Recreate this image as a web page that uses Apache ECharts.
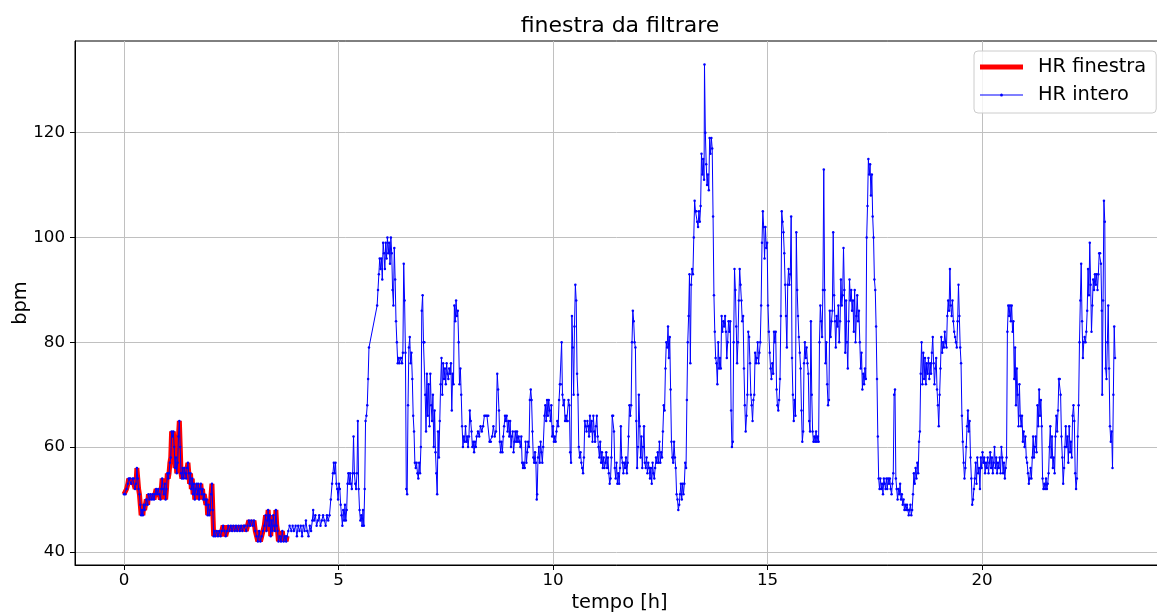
<!DOCTYPE html>
<html>
<head>
<meta charset="utf-8">
<script src="https://cdn.jsdelivr.net/npm/echarts@6/dist/echarts.min.js"></script>
<style>
  html, body { margin: 0; padding: 0; background: #fff; }
  #grafico { width: 1157px; height: 612px; }
</style>
</head>
<body>
<div id="grafico"></div>
<script>
// Frequenza cardiaca [bpm] in funzione del tempo [h], coppie [ore, bpm]
const hr_0_2 = [[0,51],[0.03,51],[0.06,52],[0.09,53],[0.11,54],[0.14,54],[0.17,53],[0.2,54],[0.23,54],[0.26,52],[0.28,53],[0.3,56],[0.32,54],[0.34,52],[0.36,51],[0.38,49],[0.4,47],[0.42,48],[0.44,47],[0.46,49],[0.48,48],[0.5,49],[0.52,50],[0.55,49],[0.57,51],[0.6,50],[0.62,51],[0.65,50],[0.67,51],[0.7,50],[0.72,51],[0.75,52],[0.77,51],[0.8,52],[0.82,51],[0.85,50],[0.87,52],[0.89,54],[0.91,52],[0.93,51],[0.95,53],[0.97,50],[0.99,52],[1.01,55],[1.03,54],[1.05,55],[1.07,57],[1.09,58],[1.11,63],[1.13,62],[1.15,63],[1.17,60],[1.19,56],[1.21,58],[1.23,55],[1.25,57],[1.27,62],[1.29,65],[1.31,60],[1.33,55],[1.35,54],[1.37,56],[1.39,54],[1.41,56],[1.43,55],[1.45,54],[1.47,56],[1.49,57],[1.51,55],[1.53,53],[1.55,55],[1.57,52],[1.59,54],[1.61,51],[1.63,53],[1.65,50],[1.67,52],[1.69,53],[1.71,51],[1.73,53],[1.75,50],[1.77,52],[1.79,53],[1.81,51],[1.83,52],[1.85,50],[1.87,51],[1.89,50],[1.91,49],[1.93,50],[1.95,47],[1.97,49],[1.99,47],[2.01,48],[2.03,51],[2.05,53],[2.07,48],[2.09,43]];
const hr_2_4 = [[2.11,44],[2.13,43],[2.16,44],[2.19,43],[2.22,44],[2.25,43],[2.28,44],[2.31,45],[2.34,44],[2.37,43],[2.4,44],[2.43,45],[2.46,44],[2.49,45],[2.52,44],[2.55,45],[2.58,44],[2.61,45],[2.64,44],[2.67,45],[2.7,44],[2.73,45],[2.76,44],[2.79,45],[2.82,45],[2.85,44],[2.88,45],[2.91,46],[2.94,45],[2.97,46],[3.0,45],[3.03,46],[3.06,44],[3.09,43],[3.12,42],[3.15,44],[3.18,42],[3.21,43],[3.24,44],[3.27,45],[3.3,47],[3.32,44],[3.34,46],[3.36,48],[3.38,45],[3.4,47],[3.42,43],[3.44,46],[3.46,44],[3.48,47],[3.5,45],[3.52,44],[3.54,48],[3.56,45],[3.58,44],[3.6,42],[3.63,43],[3.66,42],[3.69,44],[3.72,42],[3.75,43],[3.78,42],[3.8,43],[3.83,44],[3.86,45],[3.9,44],[3.93,45],[3.96,44]];
const hr_4_6 = [[4.0,45],[4.03,43],[4.06,45],[4.09,44],[4.12,45],[4.15,43],[4.18,45],[4.21,44],[4.24,46],[4.27,44],[4.3,43],[4.33,45],[4.36,44],[4.39,46],[4.41,48],[4.43,46],[4.46,47],[4.49,45],[4.52,46],[4.55,47],[4.58,45],[4.61,46],[4.64,47],[4.67,46],[4.7,45],[4.73,47],[4.76,46],[4.79,47],[4.82,50],[4.85,53],[4.87,55],[4.89,57],[4.91,55],[4.93,57],[4.95,53],[4.97,52],[4.99,50],[5.01,53],[5.03,52],[5.05,49],[5.07,47],[5.09,45],[5.11,48],[5.13,46],[5.15,49],[5.17,46],[5.19,48],[5.21,53],[5.23,55],[5.25,53],[5.27,55],[5.29,53],[5.31,52],[5.33,55],[5.35,62],[5.37,55],[5.39,53],[5.41,52],[5.43,55],[5.45,65],[5.47,52],[5.49,48],[5.51,46],[5.53,47],[5.55,45],[5.57,48],[5.59,45],[5.61,52],[5.63,65],[5.65,66],[5.67,68],[5.69,73],[5.71,79],[5.9,87],[5.92,90],[5.94,93],[5.96,96],[5.98,94]];
const hr_6_8 = [[6.0,96],[6.02,92],[6.04,99],[6.06,97],[6.08,94],[6.1,99],[6.12,96],[6.14,100],[6.16,97],[6.18,99],[6.2,95],[6.22,100],[6.24,97],[6.26,90],[6.28,87],[6.3,98],[6.32,92],[6.34,84],[6.36,80],[6.38,76],[6.4,77],[6.42,76],[6.44,77],[6.46,77],[6.48,76],[6.5,78],[6.52,95],[6.54,88],[6.56,78],[6.58,52],[6.6,51],[6.62,68],[6.64,79],[6.66,81],[6.68,76],[6.7,78],[6.72,73],[6.74,66],[6.76,63],[6.78,57],[6.8,56],[6.82,57],[6.84,55],[6.86,54],[6.88,57],[6.9,55],[6.92,60],[6.94,86],[6.96,89],[6.98,80],[7.0,80],[7.02,70],[7.04,63],[7.06,74],[7.08,66],[7.1,72],[7.12,64],[7.14,74],[7.16,68],[7.18,65],[7.2,70],[7.22,60],[7.24,67],[7.26,59],[7.28,55],[7.3,51],[7.32,63],[7.34,58],[7.36,65],[7.38,72],[7.4,77],[7.42,70],[7.44,76],[7.46,73],[7.48,75],[7.5,72],[7.52,76],[7.54,74],[7.56,73],[7.58,75],[7.6,74],[7.62,76],[7.64,67],[7.66,74],[7.68,72],[7.7,87],[7.72,84],[7.74,88],[7.76,85],[7.78,86],[7.8,80],[7.82,72],[7.84,75],[7.86,70],[7.88,64],[7.9,60],[7.92,62],[7.94,61],[7.96,64],[7.98,61]];
const hr_8_10 = [[8.0,62],[8.02,60],[8.04,62],[8.06,67],[8.08,65],[8.1,63],[8.12,60],[8.14,61],[8.16,59],[8.18,61],[8.2,60],[8.22,62],[8.25,63],[8.28,62],[8.31,64],[8.34,63],[8.37,64],[8.4,66],[8.43,66],[8.46,66],[8.49,66],[8.52,61],[8.55,61],[8.58,62],[8.61,64],[8.64,62],[8.67,63],[8.7,74],[8.72,71],[8.74,67],[8.76,61],[8.78,59],[8.8,61],[8.82,59],[8.84,62],[8.86,64],[8.88,66],[8.9,65],[8.92,66],[8.94,63],[8.96,65],[8.98,62],[9.0,65],[9.02,60],[9.04,62],[9.06,63],[9.08,59],[9.1,61],[9.12,63],[9.14,61],[9.16,63],[9.18,61],[9.2,62],[9.22,61],[9.24,60],[9.26,62],[9.28,57],[9.3,56],[9.32,57],[9.34,56],[9.36,61],[9.38,57],[9.4,59],[9.42,61],[9.44,60],[9.46,69],[9.48,71],[9.5,69],[9.52,63],[9.54,58],[9.56,57],[9.58,59],[9.6,57],[9.62,50],[9.63,51],[9.65,58],[9.67,60],[9.69,57],[9.71,61],[9.73,59],[9.75,57],[9.77,60],[9.8,66],[9.82,68],[9.84,65],[9.86,69],[9.88,66],[9.9,69],[9.92,67],[9.94,65],[9.96,68],[9.98,62]];
const hr_10_12 = [[10.0,64],[10.02,61],[10.04,62],[10.06,61],[10.08,63],[10.1,65],[10.12,64],[10.14,69],[10.16,72],[10.18,72],[10.2,80],[10.22,70],[10.24,68],[10.26,69],[10.28,65],[10.3,66],[10.32,65],[10.34,65],[10.36,69],[10.38,68],[10.4,59],[10.42,57],[10.44,85],[10.46,79],[10.48,70],[10.5,83],[10.52,91],[10.54,88],[10.56,74],[10.58,70],[10.6,60],[10.62,58],[10.64,59],[10.66,57],[10.68,56],[10.7,55],[10.72,58],[10.74,65],[10.76,64],[10.78,63],[10.8,65],[10.82,64],[10.84,62],[10.86,66],[10.88,63],[10.9,65],[10.92,61],[10.94,66],[10.96,63],[10.98,61],[11.0,64],[11.02,66],[11.04,62],[11.06,60],[11.08,58],[11.1,61],[11.12,57],[11.14,59],[11.16,56],[11.18,58],[11.2,56],[11.22,57],[11.24,59],[11.26,56],[11.28,58],[11.3,55],[11.32,53],[11.34,54],[11.36,58],[11.38,66],[11.4,66],[11.42,63],[11.44,56],[11.46,54],[11.48,57],[11.5,53],[11.52,55],[11.54,53],[11.56,56],[11.58,64],[11.6,58],[11.62,57],[11.64,55],[11.66,57],[11.68,56],[11.7,58],[11.72,55],[11.74,57],[11.76,62],[11.78,68],[11.8,66],[11.82,68],[11.84,80],[11.86,86],[11.88,84],[11.9,80],[11.92,79],[11.94,65],[11.96,56],[11.98,60]];
const hr_12_14 = [[12.0,70],[12.02,64],[12.04,58],[12.06,62],[12.08,56],[12.1,60],[12.12,64],[12.14,57],[12.16,56],[12.18,58],[12.2,55],[12.22,57],[12.24,56],[12.26,54],[12.28,56],[12.3,53],[12.32,57],[12.34,55],[12.36,54],[12.38,56],[12.4,58],[12.42,57],[12.44,59],[12.46,57],[12.48,61],[12.5,57],[12.52,59],[12.54,58],[12.56,63],[12.58,68],[12.6,67],[12.62,75],[12.64,80],[12.66,79],[12.68,83],[12.7,77],[12.72,81],[12.74,71],[12.76,61],[12.78,58],[12.8,57],[12.82,61],[12.84,58],[12.86,56],[12.88,51],[12.9,50],[12.92,48],[12.94,49],[12.96,51],[12.98,53],[13.0,50],[13.02,53],[13.04,51],[13.06,53],[13.08,57],[13.1,56],[13.12,69],[13.14,80],[13.16,85],[13.18,93],[13.2,76],[13.22,91],[13.24,94],[13.26,93],[13.28,100],[13.3,107],[13.32,105],[13.34,105],[13.36,103],[13.38,102],[13.4,105],[13.42,103],[13.44,106],[13.46,116],[13.48,112],[13.5,115],[13.52,111],[13.53,133],[13.55,120],[13.57,114],[13.59,110],[13.61,112],[13.63,109],[13.65,119],[13.67,116],[13.69,119],[13.71,117],[13.73,104],[13.75,89],[13.77,82],[13.79,77],[13.81,76],[13.83,72],[13.85,80],[13.87,75],[13.89,77],[13.91,75],[13.93,85],[13.95,82],[13.97,84],[13.99,83]];
const hr_14_16 = [[14.01,85],[14.03,82],[14.05,77],[14.07,80],[14.09,84],[14.11,82],[14.13,84],[14.15,67],[14.17,60],[14.19,61],[14.21,80],[14.23,94],[14.25,90],[14.27,83],[14.29,76],[14.31,80],[14.33,88],[14.35,94],[14.37,91],[14.39,88],[14.41,84],[14.43,85],[14.45,75],[14.47,68],[14.49,63],[14.51,66],[14.53,70],[14.55,82],[14.57,81],[14.59,76],[14.61,70],[14.63,68],[14.65,65],[14.67,69],[14.69,70],[14.71,78],[14.73,76],[14.75,77],[14.77,80],[14.79,76],[14.81,78],[14.83,80],[14.85,87],[14.87,99],[14.89,105],[14.91,102],[14.93,96],[14.95,102],[14.97,98],[14.99,99],[15.01,87],[15.03,82],[15.05,78],[15.07,75],[15.09,73],[15.11,76],[15.13,74],[15.15,82],[15.17,80],[15.19,82],[15.21,71],[15.23,68],[15.25,67],[15.27,69],[15.29,73],[15.31,85],[15.33,105],[15.35,103],[15.37,101],[15.39,97],[15.41,91],[15.43,85],[15.45,79],[15.47,91],[15.49,94],[15.51,91],[15.53,93],[15.55,104],[15.57,77],[15.59,70],[15.61,65],[15.63,69],[15.65,66],[15.67,101],[15.69,90],[15.71,85],[15.73,81],[15.75,78],[15.77,75],[15.79,67],[15.81,61],[15.83,63],[15.85,76],[15.87,80],[15.89,77],[15.91,79],[15.93,76],[15.95,74],[15.97,65],[15.99,63]];
const hr_16_18 = [[16.01,84],[16.03,70],[16.05,63],[16.07,61],[16.09,62],[16.11,61],[16.13,63],[16.15,61],[16.17,62],[16.19,61],[16.21,80],[16.23,87],[16.25,84],[16.27,81],[16.29,90],[16.31,113],[16.33,90],[16.35,76],[16.37,80],[16.39,72],[16.41,68],[16.43,69],[16.45,86],[16.47,81],[16.49,84],[16.51,86],[16.53,101],[16.55,89],[16.57,84],[16.59,79],[16.61,85],[16.63,83],[16.65,87],[16.67,80],[16.69,84],[16.71,92],[16.73,87],[16.75,89],[16.77,98],[16.79,90],[16.81,78],[16.83,88],[16.85,80],[16.87,75],[16.89,84],[16.91,92],[16.93,88],[16.95,90],[16.97,86],[16.99,88],[17.01,82],[17.03,90],[17.05,80],[17.07,85],[17.09,89],[17.11,84],[17.13,86],[17.15,80],[17.17,75],[17.19,78],[17.21,71],[17.23,74],[17.25,72],[17.27,75],[17.29,73],[17.31,100],[17.33,106],[17.35,115],[17.37,112],[17.39,114],[17.41,108],[17.43,112],[17.45,104],[17.47,100],[17.49,92],[17.51,90],[17.53,83],[17.55,73],[17.57,62],[17.59,54],[17.61,52],[17.63,54],[17.65,52],[17.67,53],[17.69,51],[17.71,54],[17.73,53],[17.75,52],[17.77,54],[17.79,52],[17.81,54],[17.83,53],[17.85,54],[17.87,52],[17.89,51],[17.91,53],[17.93,55],[17.95,70],[17.97,71],[17.99,54]];
const hr_18_20 = [[18.01,52],[18.03,50],[18.05,52],[18.07,51],[18.09,53],[18.11,50],[18.13,51],[18.15,49],[18.17,50],[18.19,48],[18.21,49],[18.23,48],[18.25,49],[18.27,48],[18.29,47],[18.31,48],[18.33,49],[18.35,47],[18.37,48],[18.39,51],[18.41,55],[18.43,53],[18.45,56],[18.47,54],[18.49,57],[18.51,55],[18.53,61],[18.55,63],[18.57,74],[18.59,80],[18.61,72],[18.63,78],[18.65,73],[18.67,77],[18.69,72],[18.71,76],[18.73,74],[18.75,77],[18.77,73],[18.79,76],[18.81,74],[18.83,78],[18.85,81],[18.87,76],[18.89,72],[18.91,75],[18.93,77],[18.95,71],[18.97,68],[18.99,64],[19.01,70],[19.03,75],[19.05,81],[19.07,78],[19.09,80],[19.11,79],[19.13,82],[19.15,80],[19.17,79],[19.19,85],[19.21,88],[19.23,86],[19.25,94],[19.27,87],[19.29,85],[19.31,88],[19.33,84],[19.35,82],[19.37,81],[19.39,80],[19.41,79],[19.43,84],[19.45,91],[19.47,85],[19.49,79],[19.51,76],[19.53,66],[19.55,61],[19.57,57],[19.59,54],[19.61,56],[19.63,60],[19.65,64],[19.67,67],[19.69,63],[19.71,65],[19.73,58],[19.75,54],[19.77,49],[19.79,50],[19.81,52],[19.83,54],[19.85,57],[19.87,53],[19.89,58],[19.91,55],[19.93,56],[19.95,52],[19.97,58],[19.99,56]];
const hr_20_22 = [[20.01,59],[20.03,57],[20.05,58],[20.07,55],[20.09,57],[20.11,56],[20.13,58],[20.15,55],[20.17,57],[20.19,59],[20.21,56],[20.23,58],[20.25,55],[20.27,57],[20.29,60],[20.31,56],[20.33,58],[20.35,55],[20.37,57],[20.39,56],[20.41,58],[20.43,55],[20.45,60],[20.47,58],[20.49,55],[20.51,57],[20.53,54],[20.55,56],[20.57,58],[20.59,82],[20.61,87],[20.63,85],[20.65,87],[20.67,84],[20.69,87],[20.71,82],[20.73,84],[20.75,73],[20.77,79],[20.79,68],[20.81,75],[20.83,70],[20.85,64],[20.87,72],[20.89,66],[20.91,64],[20.93,66],[20.95,61],[20.97,63],[20.99,60],[21.01,62],[21.03,58],[21.05,57],[21.07,55],[21.09,53],[21.11,54],[21.13,56],[21.15,54],[21.17,58],[21.19,62],[21.21,58],[21.23,60],[21.25,62],[21.27,59],[21.29,68],[21.31,64],[21.33,71],[21.35,66],[21.37,69],[21.39,64],[21.41,54],[21.43,52],[21.45,53],[21.47,52],[21.49,54],[21.51,52],[21.53,53],[21.55,55],[21.57,60],[21.59,64],[21.61,58],[21.63,62],[21.65,56],[21.67,58],[21.69,55],[21.71,62],[21.73,66],[21.75,63],[21.77,67],[21.79,73],[21.81,73],[21.83,70],[21.85,62],[21.87,58],[21.89,53],[21.91,56],[21.93,60],[21.95,64],[21.97,60],[21.99,62]];
const hr_22_24 = [[22.01,57],[22.03,64],[22.05,59],[22.07,61],[22.09,58],[22.11,66],[22.13,68],[22.15,65],[22.17,55],[22.19,52],[22.21,54],[22.23,62],[22.25,68],[22.27,80],[22.29,88],[22.31,95],[22.33,84],[22.35,77],[22.37,80],[22.39,81],[22.41,80],[22.43,82],[22.45,86],[22.47,94],[22.49,89],[22.51,99],[22.53,91],[22.55,82],[22.57,87],[22.59,92],[22.61,90],[22.63,93],[22.65,91],[22.67,93],[22.69,90],[22.71,93],[22.73,97],[22.75,97],[22.77,95],[22.79,86],[22.8,70],[22.82,88],[22.84,107],[22.86,103],[22.88,75],[22.9,73],[22.92,80],[22.94,87],[22.96,75],[22.98,64],[23.0,61],[23.02,63],[23.04,56],[23.06,70],[23.08,83],[23.1,77]];

// Fine della finestra da filtrare [h]
const FINE_FINESTRA = 3.8;

const tickTempo = [0, 5, 10, 15, 20];
const tickBpm = [40, 60, 80, 100, 120];

const hrIntero = [].concat(hr_0_2, hr_2_4, hr_4_6, hr_6_8, hr_8_10, hr_10_12,
                           hr_12_14, hr_14_16, hr_16_18, hr_18_20, hr_20_22, hr_22_24);
const hrFinestra = hrIntero.filter(p => p[0] <= FINE_FINESTRA);

const FONT = 'DejaVu Sans';
const chart = echarts.init(document.getElementById('grafico'), null, { renderer: 'canvas' });

chart.setOption({
  animation: false,
  backgroundColor: '#ffffff',
  textStyle: { fontFamily: FONT },
  title: {
    text: 'finestra da filtrare',
    left: 620,
    textAlign: 'center',
    top: 15,
    padding: 0,
    textStyle: { fontFamily: FONT, fontSize: 22, fontWeight: 'normal', color: '#000' }
  },
  legend: {
    data: [
      { name: 'HR finestra', icon: 'path://M0,0 L43,0 L43,5 L0,5 Z' },
      { name: 'HR intero', icon: 'path://M0,1 L43,1 L43,2 L0,2 Z M21.5,0 A1.5,1.5 0 1 1 21.5,3 A1.5,1.5 0 1 1 21.5,0 Z' }
    ],
    orient: 'vertical',
    left: 974,
    top: 51,
    itemWidth: 43,
    itemHeight: 20,
    itemGap: 8,
    padding: [6, 10, 8, 6],
    borderColor: '#cccccc',
    borderWidth: 1,
    borderRadius: 4,
    backgroundColor: 'rgba(255,255,255,0.8)',
    selectedMode: false,
    textStyle: { fontFamily: FONT, fontSize: 19.4, color: '#000', padding: [0, 0, 0, 10], lineHeight: 20 }
  },
  grid: {
    left: 75,
    right: -7,
    top: 41,
    bottom: 47,
    outerBoundsMode: 'none',
    containLabel: false,
    show: true,
    borderColor: '#000',
    borderWidth: 1,
    backgroundColor: 'transparent'
  },
  xAxis: {
    type: 'value',
    min: -1.142,
    max: 24.24,
    name: 'tempo [h]',
    nameLocation: 'middle',
    nameGap: 28,
    nameMoveOverlap: false,
    nameTextStyle: { fontFamily: FONT, fontSize: 19.4, color: '#000' },
    axisLine: { onZero: false, lineStyle: { color: '#000', width: 1 } },
    axisTick: { show: true, customValues: tickTempo, length: 5, lineStyle: { color: '#000' } },
    axisLabel: { customValues: tickTempo, margin: 7, fontFamily: FONT, fontSize: 16.7, color: '#000' },
    splitLine: { show: true, lineStyle: { color: '#c0c0c0', width: 1 } }
  },
  yAxis: {
    type: 'value',
    min: 37.5,
    max: 137.5,
    name: 'bpm',
    nameLocation: 'middle',
    nameGap: 45,
    nameMoveOverlap: false,
    nameTextStyle: { fontFamily: FONT, fontSize: 19.4, color: '#000' },
    axisLine: { show: true, onZero: false, lineStyle: { color: '#000', width: 1 } },
    axisTick: { show: true, customValues: tickBpm, length: 5, lineStyle: { color: '#000' } },
    axisLabel: { customValues: tickBpm, margin: 10, fontFamily: FONT, fontSize: 16.7, color: '#000' },
    splitLine: { show: true, lineStyle: { color: '#c0c0c0', width: 1 } }
  },
  series: [
    {
      name: 'HR finestra',
      type: 'line',
      data: hrFinestra,
      symbol: 'none',
      color: '#ff0000',
      lineStyle: { color: '#ff0000', width: 5 },
      z: 2
    },
    {
      name: 'HR intero',
      type: 'line',
      data: hrIntero,
      symbol: 'circle',
      symbolSize: 2.5,
      showAllSymbol: true,
      color: '#0000ff',
      itemStyle: { color: '#0000ff' },
      lineStyle: { color: '#0000ff', width: 1 },
      z: 3
    }
  ]
});
</script>
</body>
</html>
